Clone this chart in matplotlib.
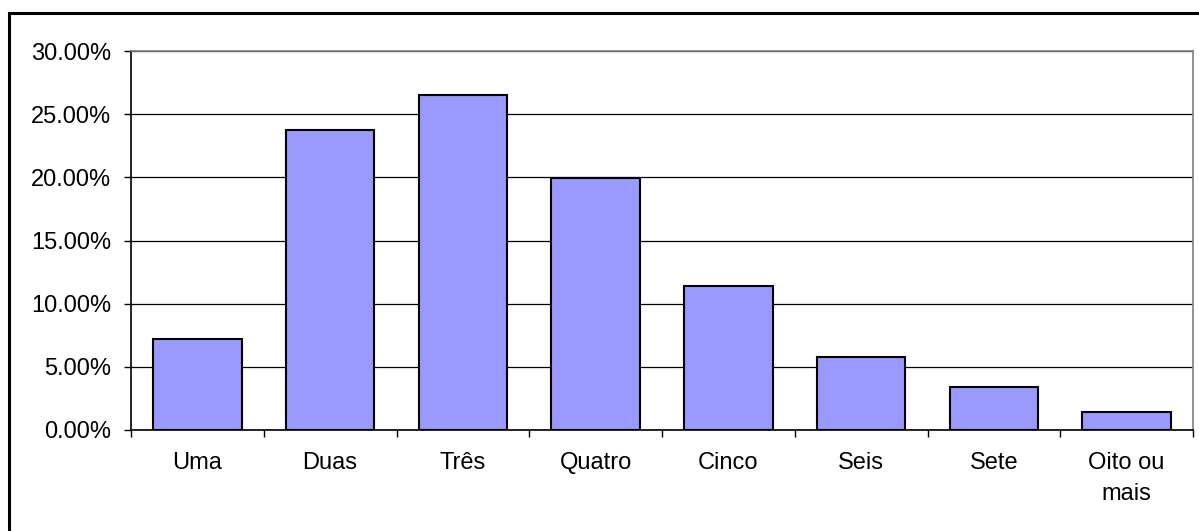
import matplotlib
matplotlib.use("Agg")
import matplotlib.pyplot as plt
from matplotlib.patches import Rectangle
from matplotlib.ticker import FuncFormatter, FixedLocator
import numpy as np

categories = ["Uma", "Duas", "Três", "Quatro", "Cinco", "Seis", "Sete", "Oito ou\nmais"]
values = [7.2, 23.75, 26.5, 19.95, 11.4, 5.75, 3.43, 1.43]
yticks = [0, 5, 10, 15, 20, 25, 30]

plt.rcParams['font.family'] = ['Liberation Sans', 'DejaVu Sans']

W, H = 1199, 531
fig = plt.figure(figsize=(W / 100, H / 100), dpi=100)
fig.patch.set_facecolor("white")

# outer border (only top & left visible)
fig.patches.append(Rectangle((8.5 / W, -0.1), 1.5, (H - 12.5) / H + 0.1,
                             transform=fig.transFigure, fill=False,
                             edgecolor="black", linewidth=2.2, clip_on=False))

left, right, top, bottom = 131, 1193, 51, 430
ax = fig.add_axes([left / W, (H - bottom) / H, (right - left) / W, (bottom - top) / H])

x = np.arange(len(categories))
ax.bar(x, values, width=0.667, color="#9999FF", edgecolor="black", linewidth=1.5, zorder=3)

ax.set_xlim(-0.5, len(categories) - 0.5)
ax.set_ylim(0, 30)
ax.set_yticks(yticks)
ax.yaxis.set_major_formatter(FuncFormatter(lambda v, p: f"{v:.2f}%"))
ax.yaxis.grid(True, color="black", linewidth=0.9, zorder=0)
ax.set_axisbelow(True)

ax.set_xticks(x)
ax.set_xticklabels(categories, fontsize=17, linespacing=1.5)
ax.tick_params(axis="x", which="major", length=0, pad=16)
ax.xaxis.set_minor_locator(FixedLocator(np.arange(-0.5, len(categories), 1.0)))
ax.tick_params(axis="x", which="minor", length=5, width=1, color="black", direction="out")
ax.tick_params(axis="y", length=5, width=1, labelsize=17, pad=9.4, direction="out")

for s in ["left", "bottom"]:
    ax.spines[s].set_color("black")
    ax.spines[s].set_linewidth(1.2)
for s in ["top", "right"]:
    ax.spines[s].set_color("#808080")
    ax.spines[s].set_linewidth(1.2)

for lbl in ax.get_xticklabels():
    lbl.set_verticalalignment("top")

fig.savefig("out.png", dpi=100, facecolor="white")
